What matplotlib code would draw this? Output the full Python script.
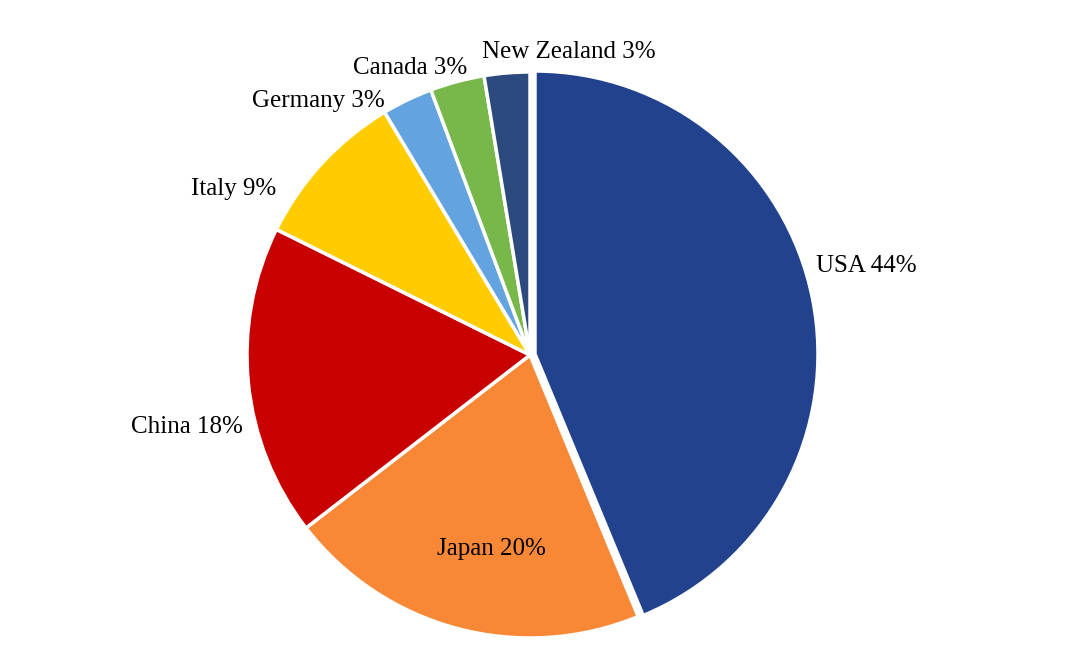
import numpy as np
import matplotlib.pyplot as plt

plt.rcParams['font.family'] = ['Liberation Serif', 'DejaVu Serif']

countries = ['USA', 'Japan', 'China', 'Italy', 'Germany', 'Canada', 'New Zealand']
shares = [43.8, 20.8, 17.8, 9.1, 2.9, 3.1, 2.6]
pct_labels = [44, 20, 18, 9, 3, 3, 3]
colors = ['#22428e', '#f98836', '#c80000', '#ffcc00', '#62a3e0', '#78b84b', '#2c4a7d']

# label placement (angle offset from wedge middle, radius)
label_dtheta = [3.5, 3.6, 6.1, 13.5, 14.1, 7.7, -12.0]
label_r = [1.23, 0.70, 1.24, 1.20, 1.167, 1.10, 1.08]

fig = plt.figure(figsize=(10.8, 6.5), dpi=100)
ax = fig.add_axes([0, 0, 1, 1])

explode = [0.018, 0, 0, 0, 0, 0, 0]
wedges, _ = ax.pie(shares, colors=colors, startangle=90, counterclock=False,
                   explode=explode, radius=1.0,
                   wedgeprops=dict(edgecolor='white', linewidth=2.5))

for w, name, p, dt, r in zip(wedges, countries, pct_labels, label_dtheta, label_r):
    mid = np.deg2rad((w.theta1 + w.theta2) / 2 + dt)
    ax.text(r * np.cos(mid), r * np.sin(mid), f'{name} {p}%',
            ha='center', va='center', fontsize=18, color='black')

ax.set_aspect('equal')
ax.set_xlim(-530 / 283, 550 / 283)
ax.set_ylim(-295 / 283, 355 / 283)
ax.axis('off')

fig.savefig('out.png', dpi=100)
